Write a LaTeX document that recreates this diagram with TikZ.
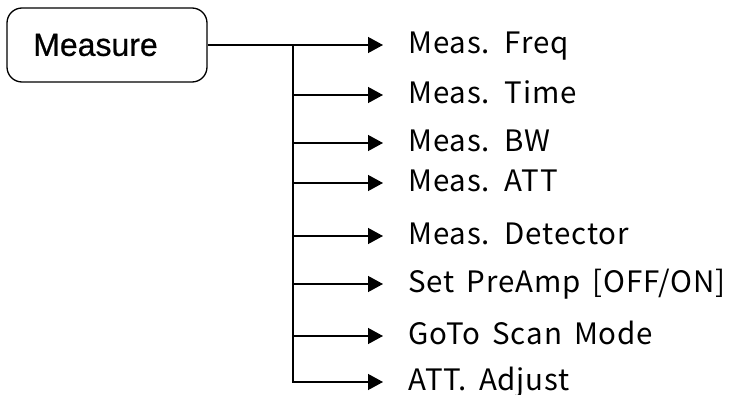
\documentclass[tikz,border=0pt]{standalone}
\usepackage{fontspec}
\setmainfont{Liberation Sans}[FakeBold=0.6]
\newfontfamily\itemfont{Noto Sans CJK KR}[LetterSpace=3, WordSpace=1.6]
\usetikzlibrary{arrows.meta}

\tikzset{
  menubox/.style={draw, line width=1.3pt, rounded corners=15pt,
    minimum width=200pt, minimum height=74pt, inner sep=0pt,
    font=\fontsize{32}{36}\selectfont},
  item/.style={inner sep=0pt, anchor=base west,
    font=\itemfont\fontsize{29.5}{34}\selectfont},
  wire/.style={line width=1.3pt},
  arr/.style={wire, shorten >=25pt, -{Triangle[length=15pt,width=16pt]}},
}

\begin{document}
\begin{tikzpicture}[x=1pt, y=-1pt]
  \useasboundingbox (0,0) rectangle (729,394);

  % main menu key, label set a little left of centre
  \node[menubox] (box) at (107,45) {Measure\kern23pt};

  % sub-menu entries
  \node[item] (l1) at (408,53.5)  {Meas. Freq};
  \node[item] (l2) at (408,103.5) {Meas. Time};
  \node[item] (l3) at (408,151.5) {Meas. BW};
  \node[item] (l4) at (408,191.5) {Meas. ATT};
  \node[item] (l5) at (408,244.5) {Meas. Detector};
  \node[item] (l6) at (408,292.5) {Set PreAmp [OFF/ON]};
  \node[item] (l7) at (408,344.5) {GoTo Scan Mode};
  \node[item] (l8) at (408,390.5) {ATT. Adjust};

  % junctions on the vertical trunk
  \coordinate (j1) at (293,45);
  \coordinate (j2) at (293,95);
  \coordinate (j3) at (293,143);
  \coordinate (j4) at (293,183);
  \coordinate (j5) at (293,236);
  \coordinate (j6) at (293,284);
  \coordinate (j7) at (293,336);
  \coordinate (j8) at (293,382);

  % connectors
  \draw[arr] (box.east) -- (box.east -| l1.west);
  \draw[arr] (j1) -- (j8) -- (j8 -| l8.west);
  \foreach \i in {2,...,7} {
    \draw[arr] (j\i) -- (j\i -| l\i.west);
  }
\end{tikzpicture}
\end{document}
